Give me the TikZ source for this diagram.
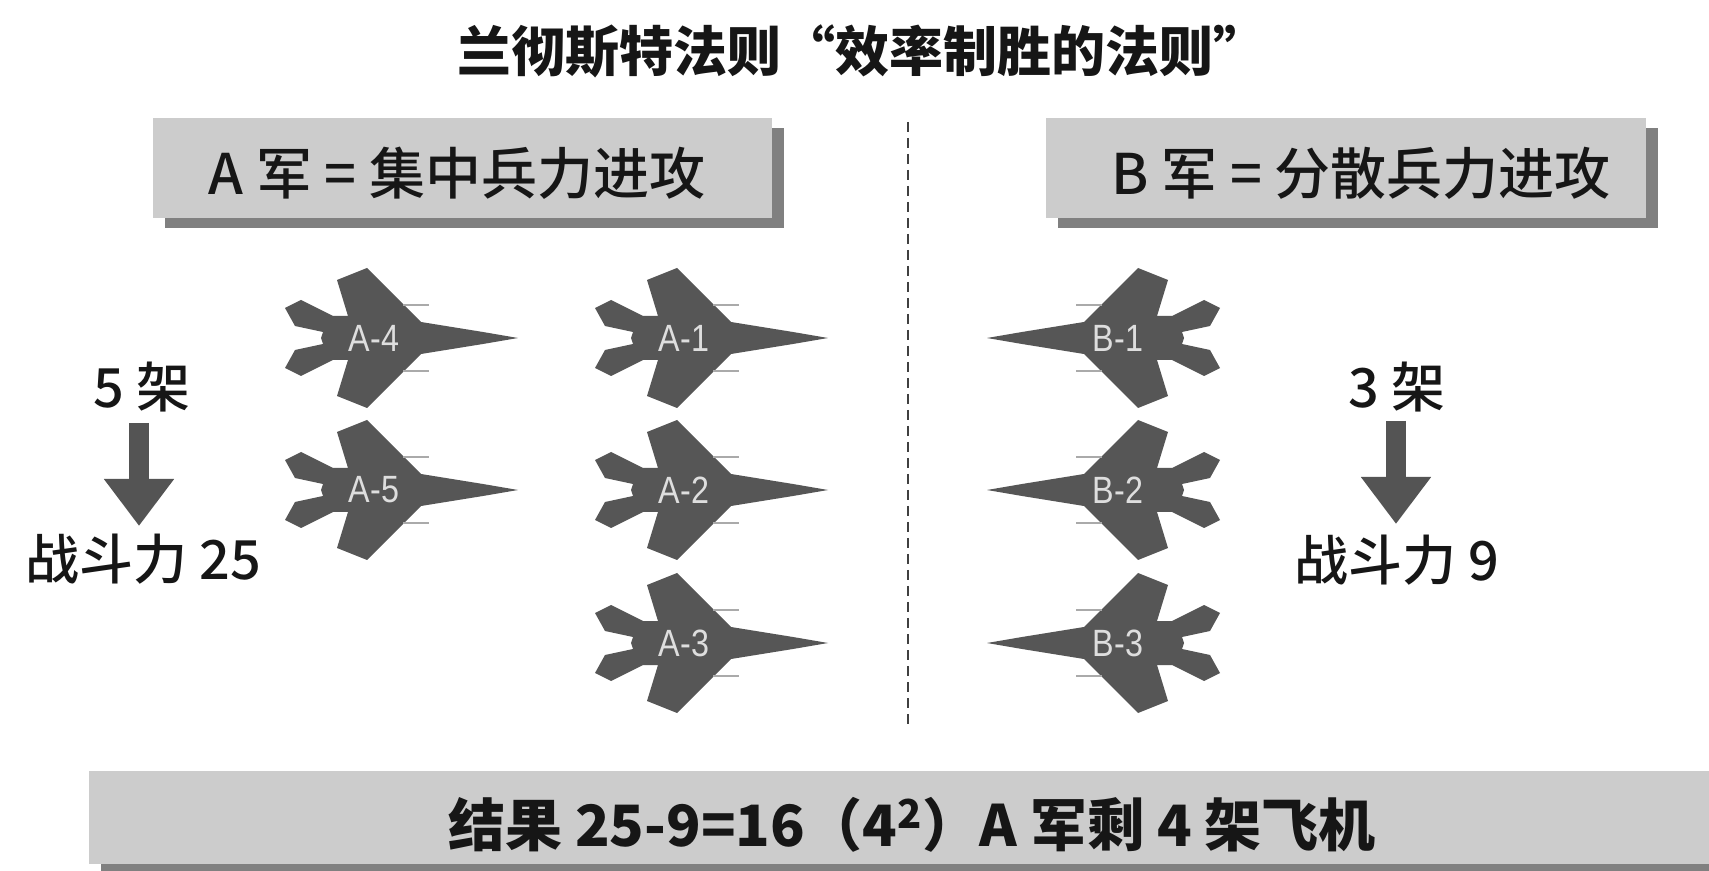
\documentclass[tikz,border=0pt]{standalone}
\usepackage{fontspec}
\setmainfont{Noto Sans CJK SC}
\newfontfamily\cjkmid{Noto Sans CJK SC Medium}
\newfontfamily\jetfont{Liberation Sans}[FakeStretch=0.85]
\usetikzlibrary{arrows.meta,shadows}
\definecolor{boxgray}{RGB}{204,204,204}
\definecolor{shadowgray}{RGB}{128,128,128}
\definecolor{jetgray}{RGB}{86,86,86}
\definecolor{arrowgray}{RGB}{84,84,84}
\definecolor{inkgray}{RGB}{22,22,22}
\definecolor{tagwhite}{RGB}{222,222,222}
\definecolor{pylongray}{RGB}{170,170,170}

\tikzset{
  jet/.pic={
    % delta wing fighter seen from above, nose pointing to +x
    \fill[jetgray] (115,0) -- (80,-6) -- (18,-16) -- (-36,-70) -- (-66,-58)
      -- (-55,-22) -- (-70,-22) -- (-102,-38) -- (-118,-30) -- (-108,-12)
      -- (-80,-6) -- (-82,0) -- (-80,6) -- (-108,12) -- (-118,30)
      -- (-102,38) -- (-70,22) -- (-55,22) -- (-66,58) -- (-36,70)
      -- (18,16) -- (80,6) -- cycle;
    \draw[pylongray, line width=0.6pt] (0,-33) -- (26,-33) (0,33) -- (26,33);
  }
}

\begin{document}
\begin{tikzpicture}[x=0.5pt,y=-0.5pt,
  banner/.style={rectangle, fill=boxgray, inner sep=0pt, anchor=north west,
    drop shadow={shadow xshift=6pt, shadow yshift=-5pt, fill=shadowgray, opacity=1}},
  bannertext/.style={text=inkgray, font=\cjkmid\fontsize{28pt}{30pt}\selectfont, inner sep=0pt},
  sidetext/.style={text=inkgray, font=\cjkmid\fontsize{27pt}{30pt}\selectfont, inner sep=0pt},
  titletext/.style={text=inkgray, font=\bfseries\fontsize{27pt}{30pt}\selectfont, inner sep=0pt},
  resulttext/.style={text=inkgray, font=\bfseries\fontsize{28.5pt}{30pt}\selectfont, inner sep=0pt},
  jettag/.style={text=tagwhite, font=\jetfont\fontsize{19pt}{20pt}\selectfont, inner sep=0pt},
  blockarrow/.style={arrowgray, line width=10pt, line cap=butt,
    -{Triangle[width=33.5pt, length=23.5pt]}},
  divider/.style={black!75, line width=1pt, dash pattern=on 5pt off 3pt}
]
\useasboundingbox (0,0) rectangle (1709,871);
\fill[white] (0,0) rectangle (1709,871);

% title
\node[titletext] (title) at (862,51) {兰彻斯特法则“效率制胜的法则”};

% the two strategy banners
\node[banner, minimum width=309.5pt, minimum height=50pt] (aBox) at (153,118) {};
\node[bannertext] (aLabel) at (457,173) {A 军 = 集中兵力进攻};
\node[banner, minimum width=300pt, minimum height=50pt] (bBox) at (1046,118) {};
\node[bannertext] (bLabel) at (1361,173) {B 军 = 分散兵力进攻};

% dividing line
\coordinate (divTop) at (908,122);
\coordinate (divBot) at (908,728);
\draw[divider] (divTop) -- (divBot);

% army A
\pic at (403,338) {jet};
\pic at (403,490) {jet};
\pic at (713,338) {jet};
\pic at (713,490) {jet};
\pic at (713,643) {jet};
\node[jettag] (a4) at (374,338) {A-4};
\node[jettag] (a5) at (374,490) {A-5};
\node[jettag] (a1) at (684,338) {A-1};
\node[jettag] (a2) at (684,490) {A-2};
\node[jettag] (a3) at (684,643) {A-3};

% army B
\pic[xscale=-1] at (1102,338) {jet};
\pic[xscale=-1] at (1102,490) {jet};
\pic[xscale=-1] at (1102,643) {jet};
\node[jettag] (b1) at (1118,338) {B-1};
\node[jettag] (b2) at (1118,490) {B-2};
\node[jettag] (b3) at (1118,643) {B-3};

% counts and fighting strength
\node[sidetext] (aCount) at (142,387) {5 架};
\node[sidetext] (aPower) at (143,559) {战斗力 25};
\coordinate (aArrowTop) at (139,423);
\coordinate (aArrowTip) at (139,526);
\draw[blockarrow] (aArrowTop) -- (aArrowTip);

\node[sidetext] (bCount) at (1397,387) {3 架};
\node[sidetext] (bPower) at (1397,560) {战斗力 9};
\coordinate (bArrowTop) at (1396,421);
\coordinate (bArrowTip) at (1396,524);
\draw[blockarrow] (bArrowTop) -- (bArrowTip);

% result banner, running off the right edge
\fill[shadowgray] (101,782) rectangle (1730,880);
\node[rectangle, fill=boxgray, inner sep=0pt, anchor=north west,
  minimum width=820pt, minimum height=46.5pt] (resBox) at (89,771) {};
\node[resulttext] (result) at (912,825) {结果 25-9=16（4\textsuperscript{2}）A 军剩 4 架飞机};
\end{tikzpicture}
\end{document}
